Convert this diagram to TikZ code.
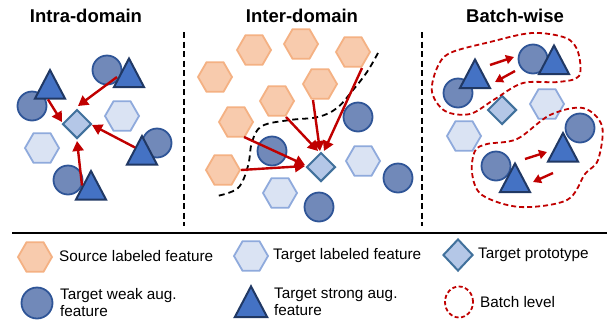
\documentclass[tikz,border=0pt]{standalone}
\usepackage{fontspec}
\setmainfont{Liberation Sans}
\usetikzlibrary{shapes.geometric,arrows.meta,calc}
\definecolor{orF}{HTML}{F8CBAD}
\definecolor{orD}{HTML}{F4B183}
\definecolor{hxF}{HTML}{DAE3F3}
\definecolor{hxD}{HTML}{8FAADC}
\definecolor{dmF}{HTML}{B4C7E7}
\definecolor{dmD}{HTML}{41719C}
\definecolor{ciF}{HTML}{7189B9}
\definecolor{ciD}{HTML}{2F5597}
\definecolor{trF}{HTML}{4472C4}
\definecolor{trD}{HTML}{203864}
\definecolor{redC}{HTML}{C00000}
\begin{document}
\begin{tikzpicture}[x=1pt,y=-1pt,
  srchex/.style={regular polygon, regular polygon sides=6, minimum size=34pt, inner sep=0pt, fill=orF, draw=orD, line width=1.8pt},
  tgthex/.style={regular polygon, regular polygon sides=6, minimum size=34pt, inner sep=0pt, fill=hxF, draw=hxD, line width=1.8pt},
  proto/.style={diamond, minimum width=29pt, minimum height=29pt, inner sep=0pt, fill=dmF, draw=dmD, line width=2pt},
  weak/.style={circle, minimum size=29pt, inner sep=0pt, fill=ciF, draw=ciD, line width=1.8pt},
  strong/.pic={\draw[fill=trF, draw=trD, line width=2pt] (0,-14.5) -- (15,14) -- (-15,14) -- cycle;},
  arr/.style={draw=redC, line width=2.4pt, -{Triangle[length=10pt,width=11pt]}},
  sarr/.style={draw=redC, line width=2.4pt, -{Triangle[length=8pt,width=9pt]}},
  title/.style={font=\bfseries\fontsize{18.5}{20}\selectfont, inner sep=0pt},
  legtext/.style={font=\fontsize{15.3}{17.6}\selectfont, inner sep=0pt, align=left},
  sep/.style={line width=2.4pt, dash pattern=on 6pt off 3.5pt},
  batch/.style={draw=redC, line width=1.8pt, dash pattern=on 5pt off 3pt}
]
\useasboundingbox (0,0) rectangle (607,322);

% titles
\node[title] (ti1) at (86,16) {Intra-domain};
\node[title] (ti2) at (302,16) {Inter-domain};
\node[title] (ti3) at (515,16) {Batch-wise};

% separators
\coordinate (s1a) at (184,32); \coordinate (s1b) at (184,226);
\coordinate (s2a) at (422,32); \coordinate (s2b) at (422,226);
\draw[sep] (s1a) -- (s1b);
\draw[sep] (s2a) -- (s2b);

% ---------------- Intra-domain
\node[tgthex] (ih1) at (122,116) {};
\node[tgthex] (ih2) at (42,148) {};
\node[proto] (D1) at (77,124) {};
\node[weak] (ic1) at (107,70) {};
\node[weak] (ic2) at (32,106) {};
\node[weak] (ic3) at (157,143) {};
\node[weak] (ic4) at (68,180) {};
\coordinate (T1) at (129,73); \pic at (T1) {strong};
\coordinate (T2) at (50,84.5); \pic at (T2) {strong};
\coordinate (T3) at (142,150.5); \pic at (T3) {strong};
\coordinate (T4) at (91,185.5); \pic at (T4) {strong};
\draw[arr] ($(T1)+(-12,4)$) -- ($(D1)+(1,-18)$);
\draw[arr] ($(T2)+(-2,15)$) -- ($(D1)+(-15,-2)$);
\draw[arr] ($(T3)+(-7,-3)$) -- ($(D1)+(15,1)$);
\draw[arr] ($(T4)+(-9,0)$) -- ($(D1)+(0,17)$);

% ---------------- Inter-domain
\node[srchex] (O1) at (254,50) {};
\node[srchex] (O2) at (301,44) {};
\node[srchex] (O3) at (353,52) {};
\node[srchex] (O4) at (215,77) {};
\node[srchex] (O5) at (320,84) {};
\node[srchex] (O6) at (277,101) {};
\node[srchex] (O7) at (236,122) {};
\node[srchex] (O8) at (223,170) {};
\node[tgthex] (eh1) at (363,161) {};
\node[tgthex] (eh2) at (280,193) {};
\node[weak] (ec1) at (272,151) {};
\node[weak] (ec2) at (358,117) {};
\node[weak] (ec3) at (398,178) {};
\node[weak] (ec4) at (319,207) {};
\node[proto] (D2) at (321,167) {};
\draw[line width=1.8pt, dash pattern=on 6pt off 4pt] plot[smooth, tension=0.6] coordinates
  {(378,53) (367,72) (353,90) (337,108) (318,117) (290,120) (262,126) (252,142) (248,166) (238,188) (217,196)};
\draw[arr] ($(O3)+(9,16)$) -- ($(D2)+(3,-16)$);
\draw[arr] ($(O5)+(-7,16)$) -- ($(D2)+(-1,-16)$);
\draw[arr] ($(O6)+(9,16)$) -- ($(D2)+(-3,-16)$);
\draw[arr] ($(O7)+(8,15)$) -- ($(D2)+(-16,-2)$);
\draw[arr] ($(O8)+(18,0)$) -- ($(D2)+(-16,-1)$);

% ---------------- Batch-wise
\node[tgthex] (bh1) at (547,104) {};
\node[tgthex] (bh2) at (464,136) {};
\node[proto] (D3) at (502,110) {};
\node[weak] (bc1) at (458,93) {};
\node[weak] (bc2) at (533,59) {};
\node[weak] (bc3) at (580,128) {};
\node[weak] (bc4) at (496,166) {};
\coordinate (T5) at (475,74); \pic at (T5) {strong};
\coordinate (T6) at (554,60); \pic at (T6) {strong};
\coordinate (T7) at (563,147.5); \pic at (T7) {strong};
\coordinate (T8) at (515,178); \pic at (T8) {strong};
\draw[sarr] ($(T5)+(15,-9)$) -- ($(bc2)+(-19,-2)$);
\draw[sarr] ($(bc2)+(-18,12)$) -- ($(T5)+(20,8)$);
\draw[sarr] ($(bc4)+(29,-7)$) -- ($(T7)+(-16,4.5)$);
\draw[sarr] ($(T7)+(-10,25.5)$) -- ($(T8)+(18,4)$);
\draw[batch] plot[smooth cycle, tension=0.55] coordinates
  {(450,53) (490,42) (532,33) (566,38) (578,52) (579,76) (558,82) (523,83) (495,99) (470,114) (445,111) (432,92) (437,68)};
\draw[batch] plot[smooth cycle, tension=0.55] coordinates
  {(487,144) (517,139) (550,115) (583,108) (602,126) (598,160) (585,174) (567,200) (520,207) (482,195) (472,173) (475,151)};

% ---------------- legend
\coordinate (ra) at (12,232.5); \coordinate (rb) at (607,232.5);
\draw[line width=2pt] (ra) -- (rb);
\node[srchex] (L1) at (35,257) {};
\node[legtext, anchor=base west] (L1t) at (59,261.3) {Source labeled feature};
\node[tgthex] (L2) at (251,256) {};
\node[legtext, anchor=base west] (L2t) at (273,259.7) {Target labeled feature};
\node[proto, minimum width=30pt, minimum height=32pt] (L3) at (458,255) {};
\node[legtext, anchor=base west] (L3t) at (478,258.7) {Target prototype};
\node[weak, minimum size=31pt] (L4) at (37,303) {};
\node[legtext, anchor=west] (L4t) at (60,302.5) {Target weak aug.\\feature};
\coordinate (T9) at (251,302); \pic[scale=1.08] at (T9) {strong};
\node[legtext, anchor=west] (L5t) at (274,302) {Target strong aug.\\feature};
\node[ellipse, draw=redC, line width=1.8pt, dash pattern=on 4pt off 2.5pt, minimum width=28pt, minimum height=31pt, inner sep=0pt] (L6) at (459,302) {};
\node[legtext, anchor=base west] (L6t) at (480,307) {Batch level};
\end{tikzpicture}
\end{document}
